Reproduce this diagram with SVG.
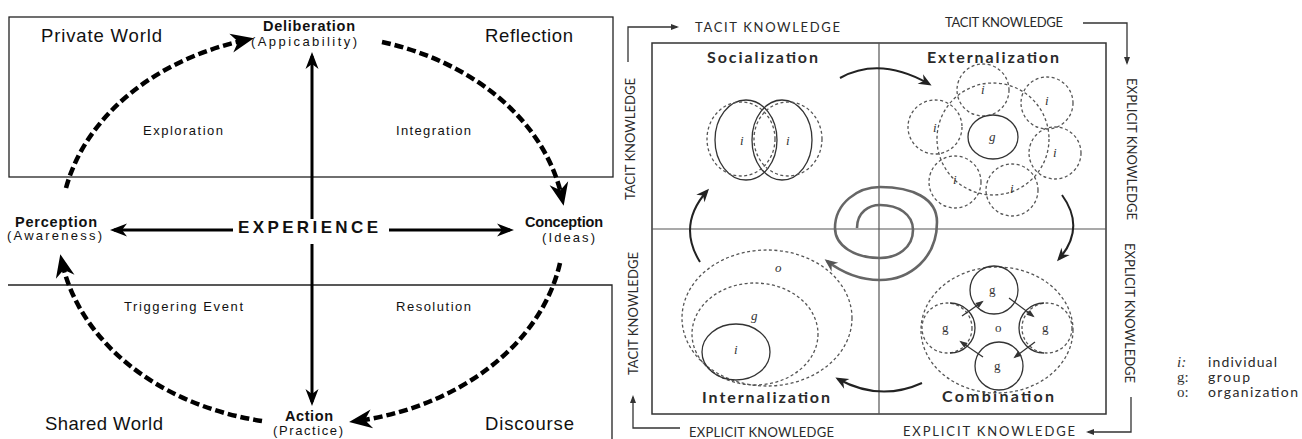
<svg xmlns="http://www.w3.org/2000/svg" width="1302" height="439" viewBox="0 0 1302 439">
  <style>
    .frame { fill: none; stroke: #222; stroke-width: 1.3; }
    .lbl { font-family: "Liberation Sans", Arial, sans-serif; fill: #111; }
    .big { font-size: 18.5px; }
    .mid { font-size: 13px; }
    .bold { font-size: 14.5px; font-weight: bold; }
    .cycle { fill: none; stroke: #000; stroke-width: 4.5; stroke-dasharray: 9 4; }
    .axis { fill: none; stroke: #000; stroke-width: 3; }
    .seci { font-family: Lato, "Open Sans", sans-serif; fill: #2a2a2a; }
    .kn { font-size: 13px; }
    .quad { font-size: 16px; font-weight: bold; }
    .ital { font-family: "Liberation Serif", serif; font-style: italic; font-size: 13px; fill: #333; }
    .key { font-family: "Liberation Serif", serif; font-size: 15px; fill: #333; }
    .box { fill: none; stroke: #333; stroke-width: 1.5; }
    .cross { fill: none; stroke: #555; stroke-width: 1.2; }
    .sol { fill: none; stroke: #333; stroke-width: 1.3; }
    .dsh { fill: none; stroke: #555; stroke-width: 1.3; stroke-dasharray: 3 2.5; }
    .flow { fill: none; stroke: #222; stroke-width: 2; }
    .thin { fill: none; stroke: #333; stroke-width: 1.3; }
  </style>
  <defs>
    <marker id="bigHead" markerUnits="userSpaceOnUse" markerWidth="40" markerHeight="40" refX="0" refY="0" orient="auto" overflow="visible">
      <path d="M8,0 L-15,-9.5 L-8,0 L-15,9.5 Z" fill="#000"/>
    </marker>
    <marker id="axisHead" markerUnits="userSpaceOnUse" markerWidth="30" markerHeight="30" refX="0" refY="0" orient="auto" overflow="visible">
      <path d="M4,0 L-13,-6.5 L-8,0 L-13,6.5 Z" fill="#000"/>
    </marker>
    <marker id="flowHead" markerUnits="userSpaceOnUse" markerWidth="30" markerHeight="30" refX="0" refY="0" orient="auto" overflow="visible">
      <path d="M3,0 L-10,-5.5 L-6,0 L-10,5.5 Z" fill="#222"/>
    </marker>
    <marker id="spiralHead" markerUnits="userSpaceOnUse" markerWidth="30" markerHeight="30" refX="0" refY="0" orient="auto" overflow="visible">
      <path d="M3,0 L-10,-5.5 L-6,0 L-10,5.5 Z" fill="#555"/>
    </marker>
    <marker id="tinyHead" markerUnits="userSpaceOnUse" markerWidth="20" markerHeight="20" refX="0" refY="0" orient="auto" overflow="visible">
      <path d="M2,0 L-6,-3 L-6,3 Z" fill="#333"/>
    </marker>
  </defs>

  <rect width="1302" height="439" fill="#fff"/>

  <!-- ===== Experiential learning cycle ===== -->
  <g id="private-world">
    <rect class="frame" x="9" y="17" width="604" height="160"/>
    <text class="lbl big" x="41" y="42" textLength="121" lengthAdjust="spacing">Private World</text>
    <text class="lbl big" x="485" y="42" textLength="88" lengthAdjust="spacing">Reflection</text>
    <text class="lbl mid" x="143" y="135" textLength="80" lengthAdjust="spacing">Exploration</text>
    <text class="lbl mid" x="396" y="135" textLength="75" lengthAdjust="spacing">Integration</text>
  </g>
  <g id="shared-world">
    <path class="frame" d="M8,285 H612 V445"/>
    <text class="lbl mid" x="124" y="311" textLength="119" lengthAdjust="spacing">Triggering Event</text>
    <text class="lbl mid" x="396" y="311" textLength="75" lengthAdjust="spacing">Resolution</text>
    <text class="lbl big" x="45" y="430" textLength="118" lengthAdjust="spacing">Shared World</text>
    <text class="lbl big" x="485" y="430" textLength="89" lengthAdjust="spacing">Discourse</text>
  </g>
  <g id="deliberation">
    <text class="lbl bold" x="263" y="31" textLength="92" lengthAdjust="spacing">Deliberation</text>
    <text class="lbl mid" x="251" y="46" textLength="106" lengthAdjust="spacing">(Appicability)</text>
  </g>
  <g id="perception">
    <text class="lbl bold" x="15" y="227" textLength="82" lengthAdjust="spacing">Perception</text>
    <text class="lbl mid" x="7" y="240" textLength="95" lengthAdjust="spacing">(Awareness)</text>
  </g>
  <g id="conception">
    <text class="lbl bold" x="525" y="227" textLength="78" lengthAdjust="spacing">Conception</text>
    <text class="lbl mid" x="542" y="242" textLength="53" lengthAdjust="spacing">(Ideas)</text>
  </g>
  <g id="action">
    <text class="lbl bold" x="285" y="421" textLength="48" lengthAdjust="spacing">Action</text>
    <text class="lbl mid" x="273" y="435" textLength="70" lengthAdjust="spacing">(Practice)</text>
  </g>
  <g id="experience">
    <text class="lbl" x="238" y="233" font-size="17" font-weight="bold" textLength="140" lengthAdjust="spacing">EXPERIENCE</text>
  </g>

  <g id="cycle-connectors">
    <path class="axis" d="M233,230 H114" marker-end="url(#axisHead)"/>
    <path class="axis" d="M389,230 H510" marker-end="url(#axisHead)"/>
    <path class="axis" d="M312,219 V56" marker-end="url(#axisHead)"/>
    <path class="axis" d="M312,244 V402" marker-end="url(#axisHead)"/>
    <path class="cycle" d="M66,188 A252,195 0 0 1 246,40" marker-end="url(#bigHead)"/>
    <path class="cycle" d="M382,42 A252,195 0 0 1 562,198" marker-end="url(#bigHead)"/>
    <path class="cycle" d="M560,263 A252,195 0 0 1 357,421" marker-end="url(#bigHead)"/>
    <path class="cycle" d="M262,421 A252,195 0 0 1 62,262" marker-end="url(#bigHead)"/>
  </g>

  <!-- ===== SECI knowledge spiral ===== -->
  <g id="seci-frame">
    <rect class="box" x="652" y="43" width="454" height="371"/>
    <path class="cross" d="M879,43 V414 M652,229 H1106"/>
  </g>

  <g id="tacit-top-left">
    <text class="seci kn" x="695" y="32" textLength="145" lengthAdjust="spacing">TACIT KNOWLEDGE</text>
  </g>
  <g id="tacit-top-right">
    <text class="seci kn" x="945" y="27" textLength="118" lengthAdjust="spacing">TACIT KNOWLEDGE</text>
  </g>
  <g id="explicit-right-upper">
    <text class="seci kn" transform="translate(1127,78) rotate(90)" textLength="142" lengthAdjust="spacing">EXPLICIT KNOWLEDGE</text>
  </g>
  <g id="explicit-right-lower">
    <text class="seci kn" transform="translate(1125,243) rotate(90)" textLength="140" lengthAdjust="spacing">EXPLICIT KNOWLEDGE</text>
  </g>
  <g id="tacit-left-upper">
    <text class="seci kn" transform="translate(635,200) rotate(-90)" textLength="122" lengthAdjust="spacing">TACIT KNOWLEDGE</text>
  </g>
  <g id="tacit-left-lower">
    <text class="seci kn" transform="translate(638,375) rotate(-90)" textLength="123" lengthAdjust="spacing">TACIT KNOWLEDGE</text>
  </g>
  <g id="explicit-bottom-left">
    <text class="seci kn" x="689" y="437" textLength="145" lengthAdjust="spacing">EXPLICIT KNOWLEDGE</text>
  </g>
  <g id="explicit-bottom-right">
    <text class="seci kn" x="903" y="436" textLength="172" lengthAdjust="spacing">EXPLICIT KNOWLEDGE</text>
  </g>

  <g id="socialization">
    <text class="seci quad" x="707" y="63" textLength="111" lengthAdjust="spacing">Socialization</text>
    <ellipse class="sol" cx="746" cy="140" rx="31" ry="40"/>
    <ellipse class="sol" cx="782" cy="140" rx="30" ry="40"/>
    <ellipse class="dsh" cx="741" cy="139" rx="34" ry="37"/>
    <ellipse class="dsh" cx="788" cy="139" rx="34" ry="37"/>
    <text class="ital" x="740" y="145">i</text>
    <text class="ital" x="786" y="145">i</text>
  </g>

  <g id="externalization">
    <text class="seci quad" x="927" y="63" textLength="132" lengthAdjust="spacing">Externalization</text>
    <circle class="dsh" cx="993" cy="139" r="56"/>
    <circle class="dsh" cx="983" cy="90" r="26"/>
    <circle class="dsh" cx="1047" cy="103" r="26"/>
    <circle class="dsh" cx="935" cy="127" r="27"/>
    <circle class="dsh" cx="1055" cy="153" r="26"/>
    <circle class="dsh" cx="955" cy="182" r="26"/>
    <circle class="dsh" cx="1012" cy="190" r="26"/>
    <ellipse class="sol" cx="993" cy="137" rx="25" ry="22"/>
    <text class="ital" x="989" y="141">g</text>
    <text class="ital" x="981" y="94">i</text>
    <text class="ital" x="1045" y="105">i</text>
    <text class="ital" x="933" y="132">i</text>
    <text class="ital" x="1053" y="157">i</text>
    <text class="ital" x="953" y="184">i</text>
    <text class="ital" x="1010" y="193">i</text>
  </g>

  <g id="internalization">
    <text class="seci quad" x="702" y="403" textLength="128" lengthAdjust="spacing">Internalization</text>
    <ellipse class="dsh" cx="767" cy="318" rx="85" ry="68"/>
    <ellipse class="dsh" cx="755" cy="334" rx="63" ry="51"/>
    <ellipse class="sol" cx="736" cy="352" rx="34" ry="28"/>
    <text class="ital" x="775" y="272">o</text>
    <text class="ital" x="751" y="320">g</text>
    <text class="ital" x="734" y="354">i</text>
  </g>

  <g id="combination">
    <text class="seci quad" x="942" y="402" textLength="112" lengthAdjust="spacing">Combination</text>
    <ellipse class="dsh" cx="997" cy="330" rx="76" ry="63"/>
    <circle class="sol" cx="994" cy="290" r="24"/>
    <circle class="dsh" cx="947" cy="328" r="25"/>
    <path class="sol" d="M950,303 A25,25 0 0 1 950,353"/>
    <circle class="dsh" cx="1047" cy="328" r="25"/>
    <path class="sol" d="M1044,303 A25,25 0 0 0 1044,353"/>
    <circle class="sol" cx="999" cy="366" r="24"/>
    <text class="key" x="989" y="294" style="font-size:13px">g</text>
    <text class="key" x="942" y="332" style="font-size:13px">g</text>
    <text class="key" x="1042" y="332" style="font-size:13px">g</text>
    <text class="key" x="994" y="370" style="font-size:13px">g</text>
    <text class="key" x="995" y="332" style="font-size:13px">o</text>
  </g>

  <g id="legend">
    <text class="key" x="1177" y="367" font-style="italic">i:</text>
    <text class="seci" x="1208" y="367" font-size="14" textLength="69" lengthAdjust="spacing">individual</text>
    <text class="key" x="1177" y="382">g:</text>
    <text class="seci" x="1208" y="382" font-size="14" textLength="42" lengthAdjust="spacing">group</text>
    <text class="key" x="1177" y="397">o:</text>
    <text class="seci" x="1208" y="397" font-size="14" textLength="90" lengthAdjust="spacing">organization</text>
  </g>

  <g id="seci-connectors">
    <!-- corner leaders for the knowledge labels -->
    <path class="thin" d="M628,62 V27 H677" marker-end="url(#tinyHead)"/>
    <path class="thin" d="M1083,23 H1127 V63" marker-end="url(#tinyHead)"/>
    <path class="thin" d="M1131,397 V432 H1088" marker-end="url(#tinyHead)"/>
    <path class="thin" d="M680,428 H633 V397" marker-end="url(#tinyHead)"/>
    <!-- conversion cycle -->
    <path class="flow" d="M840,78 Q880,56 929,84" marker-end="url(#flowHead)"/>
    <path class="flow" d="M1062,195 Q1086,228 1059,259" marker-end="url(#flowHead)"/>
    <path class="flow" d="M922,383 Q880,402 838,379" marker-end="url(#flowHead)"/>
    <path class="flow" d="M700,262 Q677,225 707,191" marker-end="url(#flowHead)"/>
    <!-- central spiral -->
    <path fill="none" stroke="#666" stroke-width="2.6" d="M857,228 C857,212 869,205 880,205 C898,205 913,214 913,230 C913,248 897,258 880,258 C855,258 835,246 835,228 C835,203 858,187 880,187 C912,187 937,198 937,222 C937,258 910,280 880,280 C857,280 840,271 827,261" marker-end="url(#spiralHead)"/>
    <!-- exchanges between groups -->
    <path class="thin" d="M962,316 L982,302" marker-end="url(#tinyHead)"/>
    <path class="thin" d="M1009,298 L1033,316" marker-end="url(#tinyHead)"/>
    <path class="thin" d="M1035,342 L1015,357" marker-end="url(#tinyHead)"/>
    <path class="thin" d="M983,357 L961,342" marker-end="url(#tinyHead)"/>
  </g>
</svg>
